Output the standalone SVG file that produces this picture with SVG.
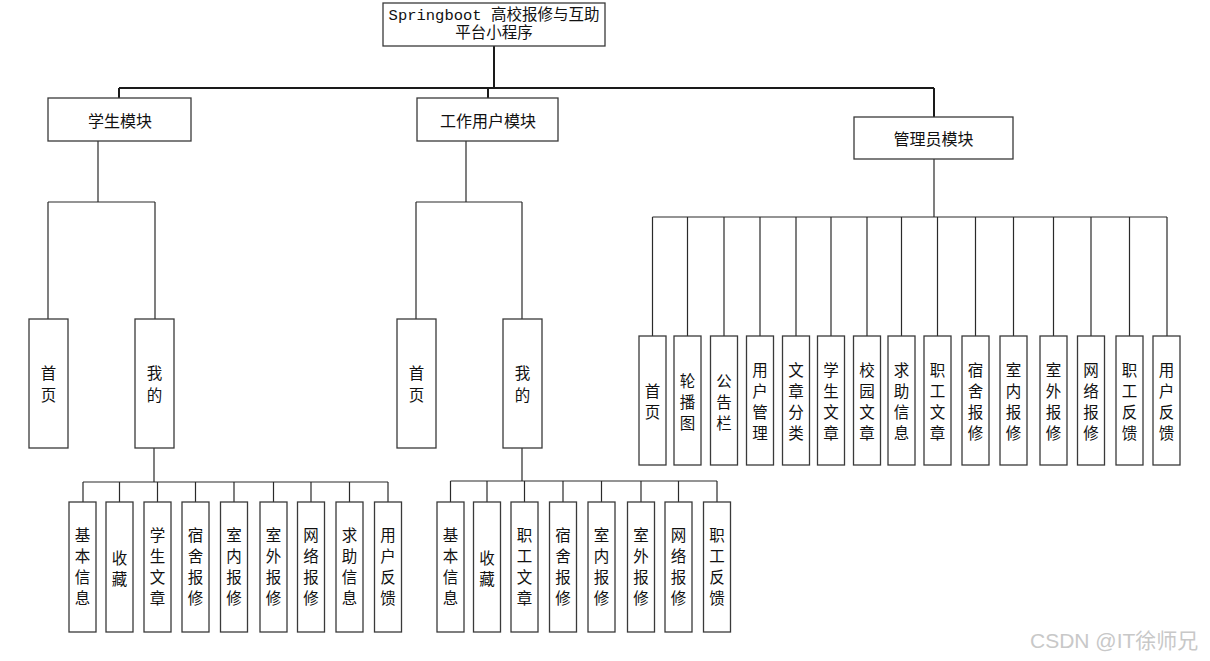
<svg xmlns="http://www.w3.org/2000/svg" width="1210" height="661" viewBox="0 0 1210 661">
<style>
.bg{fill:#ffffff}
.box{fill:#ffffff;stroke:#3a3a3a;stroke-width:1.3}
.main{fill:none;stroke:#1a1a1a;stroke-width:2}
.ln{fill:none;stroke:#2a2a2a;stroke-width:1.2}
.t{font-family:"Noto Sans CJK SC","Liberation Sans",sans-serif;font-size:15.5px;fill:#111;text-anchor:middle;dominant-baseline:central}
.m{font-size:16px}
.root{font-family:"Liberation Mono","Noto Sans CJK SC",monospace;font-size:15.5px;fill:#111;text-anchor:middle;dominant-baseline:central}
.wm{font-family:"Liberation Sans","Noto Sans CJK SC",sans-serif;font-size:21px;fill:#c8c8c8}
</style>
<rect class="bg" x="0" y="0" width="1210" height="661"/>

<g id="connectors">
  <path class="main" d="M494 46V88M119 88H934M119 88V98M488 88V98M934 88V117"/>
  <path class="ln" d="M98 141V202M48 202H155M48 202V319M155 202V319"/>
  <path class="ln" d="M466 141V202M416 202H522M416 202V319M522 202V319"/>
  <path class="ln" d="M154 448V482M83 482H388M83 482V502M119.5 482V502M157.5 482V502M195.5 482V502M234 482V502M273.5 482V502M311 482V502M349.5 482V502M388 482V502"/>
  <path class="ln" d="M522 448V481M450.5 481H717M450.5 481V502M487 481V502M524.5 481V502M563 481V502M601.5 481V502M641 481V502M678.5 481V502M717 481V502"/>
  <path class="ln" d="M934 159V217M652.5 217H1167M652.5 217V336M687.5 217V336M724 217V336M760 217V336M796 217V336M831 217V336M867 217V336M901.5 217V336M937.5 217V336M975.5 217V336M1013.5 217V336M1053.5 217V336M1091 217V336M1129.5 217V336M1167 217V336"/>
</g>

<g id="root">
  <rect class="box" x="383" y="3" width="222" height="43"/>
  <text class="root" x="494" y="15.5">Springboot 高校报修与互助</text>
  <text class="root" x="494" y="33.5">平台小程序</text>
</g>

<g id="student">
  <rect class="box" x="48" y="98" width="143" height="43"/>
  <text class="t m" x="120" y="119.5">学生模块</text>
</g>
<g id="worker">
  <rect class="box" x="417" y="98" width="141" height="43"/>
  <text class="t m" x="488" y="119.5">工作用户模块</text>
</g>
<g id="admin">
  <rect class="box" x="854" y="117" width="159" height="42"/>
  <text class="t m" x="933.5" y="138">管理员模块</text>
</g>

<g id="s-home">
  <rect class="box" x="29" y="319" width="39" height="129"/>
  <text class="t"><tspan x="48.5" y="372">首</tspan><tspan x="48.5" y="394">页</tspan></text>
</g>
<g id="s-mine">
  <rect class="box" x="135" y="319" width="39" height="129"/>
  <text class="t"><tspan x="154.5" y="372">我</tspan><tspan x="154.5" y="394">的</tspan></text>
</g>
<g id="w-home">
  <rect class="box" x="397" y="319" width="39" height="129"/>
  <text class="t"><tspan x="416.5" y="372">首</tspan><tspan x="416.5" y="394">页</tspan></text>
</g>
<g id="w-mine">
  <rect class="box" x="503" y="319" width="39" height="129"/>
  <text class="t"><tspan x="522.5" y="372">我</tspan><tspan x="522.5" y="394">的</tspan></text>
</g>

<!-- student leaves -->
<g id="s1"><rect class="box" x="69" y="502" width="27" height="130"/><text class="t"><tspan x="82.5" y="534">基</tspan><tspan x="82.5" y="555">本</tspan><tspan x="82.5" y="576">信</tspan><tspan x="82.5" y="597">息</tspan></text></g>
<g id="s2"><rect class="box" x="106" y="502" width="27" height="130"/><text class="t"><tspan x="119.5" y="556.5">收</tspan><tspan x="119.5" y="577.5">藏</tspan></text></g>
<g id="s3"><rect class="box" x="144" y="502" width="27" height="130"/><text class="t"><tspan x="157.5" y="534">学</tspan><tspan x="157.5" y="555">生</tspan><tspan x="157.5" y="576">文</tspan><tspan x="157.5" y="597">章</tspan></text></g>
<g id="s4"><rect class="box" x="182" y="502" width="27" height="130"/><text class="t"><tspan x="195.5" y="534">宿</tspan><tspan x="195.5" y="555">舍</tspan><tspan x="195.5" y="576">报</tspan><tspan x="195.5" y="597">修</tspan></text></g>
<g id="s5"><rect class="box" x="220.5" y="502" width="27" height="130"/><text class="t"><tspan x="234" y="534">室</tspan><tspan x="234" y="555">内</tspan><tspan x="234" y="576">报</tspan><tspan x="234" y="597">修</tspan></text></g>
<g id="s6"><rect class="box" x="260" y="502" width="27" height="130"/><text class="t"><tspan x="273.5" y="534">室</tspan><tspan x="273.5" y="555">外</tspan><tspan x="273.5" y="576">报</tspan><tspan x="273.5" y="597">修</tspan></text></g>
<g id="s7"><rect class="box" x="297.5" y="502" width="27" height="130"/><text class="t"><tspan x="311" y="534">网</tspan><tspan x="311" y="555">络</tspan><tspan x="311" y="576">报</tspan><tspan x="311" y="597">修</tspan></text></g>
<g id="s8"><rect class="box" x="336" y="502" width="27" height="130"/><text class="t"><tspan x="349.5" y="534">求</tspan><tspan x="349.5" y="555">助</tspan><tspan x="349.5" y="576">信</tspan><tspan x="349.5" y="597">息</tspan></text></g>
<g id="s9"><rect class="box" x="374.5" y="502" width="27" height="130"/><text class="t"><tspan x="388" y="534">用</tspan><tspan x="388" y="555">户</tspan><tspan x="388" y="576">反</tspan><tspan x="388" y="597">馈</tspan></text></g>

<!-- worker leaves -->
<g id="w1"><rect class="box" x="437" y="502" width="27" height="130"/><text class="t"><tspan x="450.5" y="534">基</tspan><tspan x="450.5" y="555">本</tspan><tspan x="450.5" y="576">信</tspan><tspan x="450.5" y="597">息</tspan></text></g>
<g id="w2"><rect class="box" x="473.5" y="502" width="27" height="130"/><text class="t"><tspan x="487" y="556.5">收</tspan><tspan x="487" y="577.5">藏</tspan></text></g>
<g id="w3"><rect class="box" x="511" y="502" width="27" height="130"/><text class="t"><tspan x="524.5" y="534">职</tspan><tspan x="524.5" y="555">工</tspan><tspan x="524.5" y="576">文</tspan><tspan x="524.5" y="597">章</tspan></text></g>
<g id="w4"><rect class="box" x="549.5" y="502" width="27" height="130"/><text class="t"><tspan x="563" y="534">宿</tspan><tspan x="563" y="555">舍</tspan><tspan x="563" y="576">报</tspan><tspan x="563" y="597">修</tspan></text></g>
<g id="w5"><rect class="box" x="588" y="502" width="27" height="130"/><text class="t"><tspan x="601.5" y="534">室</tspan><tspan x="601.5" y="555">内</tspan><tspan x="601.5" y="576">报</tspan><tspan x="601.5" y="597">修</tspan></text></g>
<g id="w6"><rect class="box" x="627.5" y="502" width="27" height="130"/><text class="t"><tspan x="641" y="534">室</tspan><tspan x="641" y="555">外</tspan><tspan x="641" y="576">报</tspan><tspan x="641" y="597">修</tspan></text></g>
<g id="w7"><rect class="box" x="665" y="502" width="27" height="130"/><text class="t"><tspan x="678.5" y="534">网</tspan><tspan x="678.5" y="555">络</tspan><tspan x="678.5" y="576">报</tspan><tspan x="678.5" y="597">修</tspan></text></g>
<g id="w8"><rect class="box" x="703.5" y="502" width="27" height="130"/><text class="t"><tspan x="717" y="534">职</tspan><tspan x="717" y="555">工</tspan><tspan x="717" y="576">反</tspan><tspan x="717" y="597">馈</tspan></text></g>

<!-- admin leaves -->
<g id="a1"><rect class="box" x="639" y="336" width="27" height="129"/><text class="t"><tspan x="652.5" y="390">首</tspan><tspan x="652.5" y="411">页</tspan></text></g>
<g id="a2"><rect class="box" x="674" y="336" width="27" height="129"/><text class="t"><tspan x="687.5" y="379.5">轮</tspan><tspan x="687.5" y="400.5">播</tspan><tspan x="687.5" y="421.5">图</tspan></text></g>
<g id="a3"><rect class="box" x="710.5" y="336" width="27" height="129"/><text class="t"><tspan x="724" y="379.5">公</tspan><tspan x="724" y="400.5">告</tspan><tspan x="724" y="421.5">栏</tspan></text></g>
<g id="a4"><rect class="box" x="746.5" y="336" width="27" height="129"/><text class="t"><tspan x="760" y="369">用</tspan><tspan x="760" y="390">户</tspan><tspan x="760" y="411">管</tspan><tspan x="760" y="432">理</tspan></text></g>
<g id="a5"><rect class="box" x="782.5" y="336" width="27" height="129"/><text class="t"><tspan x="796" y="369">文</tspan><tspan x="796" y="390">章</tspan><tspan x="796" y="411">分</tspan><tspan x="796" y="432">类</tspan></text></g>
<g id="a6"><rect class="box" x="817.5" y="336" width="27" height="129"/><text class="t"><tspan x="831" y="369">学</tspan><tspan x="831" y="390">生</tspan><tspan x="831" y="411">文</tspan><tspan x="831" y="432">章</tspan></text></g>
<g id="a7"><rect class="box" x="853.5" y="336" width="27" height="129"/><text class="t"><tspan x="867" y="369">校</tspan><tspan x="867" y="390">园</tspan><tspan x="867" y="411">文</tspan><tspan x="867" y="432">章</tspan></text></g>
<g id="a8"><rect class="box" x="888" y="336" width="27" height="129"/><text class="t"><tspan x="901.5" y="369">求</tspan><tspan x="901.5" y="390">助</tspan><tspan x="901.5" y="411">信</tspan><tspan x="901.5" y="432">息</tspan></text></g>
<g id="a9"><rect class="box" x="924" y="336" width="27" height="129"/><text class="t"><tspan x="937.5" y="369">职</tspan><tspan x="937.5" y="390">工</tspan><tspan x="937.5" y="411">文</tspan><tspan x="937.5" y="432">章</tspan></text></g>
<g id="a10"><rect class="box" x="962" y="336" width="27" height="129"/><text class="t"><tspan x="975.5" y="369">宿</tspan><tspan x="975.5" y="390">舍</tspan><tspan x="975.5" y="411">报</tspan><tspan x="975.5" y="432">修</tspan></text></g>
<g id="a11"><rect class="box" x="1000" y="336" width="27" height="129"/><text class="t"><tspan x="1013.5" y="369">室</tspan><tspan x="1013.5" y="390">内</tspan><tspan x="1013.5" y="411">报</tspan><tspan x="1013.5" y="432">修</tspan></text></g>
<g id="a12"><rect class="box" x="1040" y="336" width="27" height="129"/><text class="t"><tspan x="1053.5" y="369">室</tspan><tspan x="1053.5" y="390">外</tspan><tspan x="1053.5" y="411">报</tspan><tspan x="1053.5" y="432">修</tspan></text></g>
<g id="a13"><rect class="box" x="1077.5" y="336" width="27" height="129"/><text class="t"><tspan x="1091" y="369">网</tspan><tspan x="1091" y="390">络</tspan><tspan x="1091" y="411">报</tspan><tspan x="1091" y="432">修</tspan></text></g>
<g id="a14"><rect class="box" x="1116" y="336" width="27" height="129"/><text class="t"><tspan x="1129.5" y="369">职</tspan><tspan x="1129.5" y="390">工</tspan><tspan x="1129.5" y="411">反</tspan><tspan x="1129.5" y="432">馈</tspan></text></g>
<g id="a15"><rect class="box" x="1153" y="336" width="27" height="129"/><text class="t"><tspan x="1166.5" y="369">用</tspan><tspan x="1166.5" y="390">户</tspan><tspan x="1166.5" y="411">反</tspan><tspan x="1166.5" y="432">馈</tspan></text></g>

<text class="wm" x="1030" y="648">CSDN @IT徐师兄</text>
</svg>
